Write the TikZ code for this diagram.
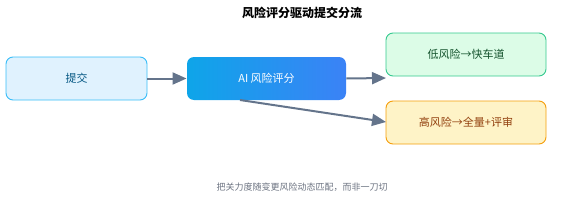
\documentclass[tikz,border=0pt]{standalone}
\usepackage{fontspec}
\setmainfont{Noto Sans CJK SC}
\usetikzlibrary{arrows.meta,shadings}
\definecolor{subfill}{HTML}{E0F2FE}
\definecolor{subdraw}{HTML}{38BDF8}
\definecolor{subtext}{HTML}{075985}
\definecolor{gradA}{HTML}{0EA5E9}
\definecolor{gradB}{HTML}{3B82F6}
\definecolor{lowfill}{HTML}{DCFCE7}
\definecolor{lowdraw}{HTML}{34C98F}
\definecolor{lowtext}{HTML}{14532D}
\definecolor{highfill}{HTML}{FEF3C7}
\definecolor{highdraw}{HTML}{F59E0B}
\definecolor{hightext}{HTML}{92400E}
\definecolor{arrowc}{HTML}{64748B}
\definecolor{notec}{HTML}{6B7280}
\tikzset{
  box/.style={rounded corners=7pt, line width=0.9pt, minimum height=43pt, inner sep=0pt, font=\fontsize{11}{13}\selectfont},
  flow/.style={draw=arrowc, line width=2pt, -{Triangle[length=14pt,width=12pt]}},
}
\begin{document}
\begin{tikzpicture}[x=1pt,y=-1pt]
\useasboundingbox (0,0) rectangle (582,206);
\node[font=\bfseries\fontsize{12}{14}\selectfont] (title) at (302,13) {风险评分驱动提交分流};
\node[box, fill=subfill, draw=subdraw, text=subtext, minimum width=141pt] (sub) at (76.5,78.5) {提交};
\node[box, left color=gradA, right color=gradB, draw=none, text=white, minimum width=159pt] (ai) at (266.5,78.5) {AI 风险评分};
\node[box, fill=lowfill, draw=lowdraw, text=lowtext, minimum width=160pt] (low) at (466,54.5) {低风险→快车道};
\node[box, fill=highfill, draw=highdraw, text=hightext, minimum width=160pt] (high) at (466,122.5) {高风险→全量+评审};
\coordinate (lowin) at (386,78);
\coordinate (highin) at (386,122);
\coordinate (aibot) at (240,100);
\draw[flow] (sub.east) -- (ai.west);
\draw[flow] (ai.east) -- (lowin);
\draw[flow] (aibot) -- (highin);
\node[text=notec, font=\fontsize{9}{11}\selectfont] (note) at (302,187) {把关力度随变更风险动态匹配，而非一刀切};
\end{tikzpicture}
\end{document}
